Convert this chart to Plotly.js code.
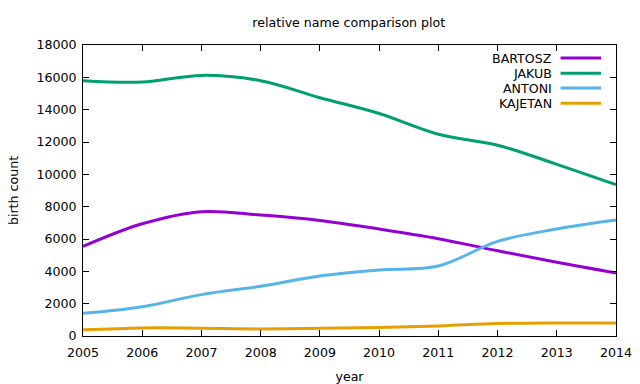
<!DOCTYPE html>
<html>
<head>
<meta charset="utf-8">
<script src="https://cdn.plot.ly/plotly-3.0.1.min.js"></script>
<style>html,body{margin:0;padding:0;background:#fff;}#chart{width:640px;height:384px;}</style>
</head>
<body>
<div id="chart"></div>
<script>
const years = [2005, 2006, 2007, 2008, 2009, 2010, 2011, 2012, 2013, 2014];
const names = ["BARTOSZ", "JAKUB", "ANTONI", "KAJETAN"];
const bartosz = [5540, 6940, 7690, 7480, 7150, 6620, 6020, 5270, 4560, 3900];
const jakub   = [15790, 15710, 16120, 15790, 14740, 13760, 12480, 11800, 10620, 9360];
const antoni  = [1400, 1810, 2560, 3080, 3710, 4080, 4330, 5850, 6620, 7170];
const kajetan = [380, 500, 480, 440, 480, 520, 620, 770, 810, 810];
const colors = ["#9400d3", "#009e73", "#56b4e9", "#e69f00"];
const series = [bartosz, jakub, antoni, kajetan];

const font = {family: "DejaVu Sans", size: 12.6, color: "#000"};

const traces = series.map((ys, i) => ({
  x: years, y: ys, name: names[i], type: "scatter", mode: "lines",
  line: {color: colors[i], width: 3, shape: "spline", smoothing: 1},
  showlegend: false, hoverinfo: "skip"
}));

// custom gnuplot-style legend (text then line sample)
const legendY = [0.955, 0.903, 0.852, 0.80];
const annotations = names.map((n, i) => ({
  xref: "paper", yref: "paper", x: 0.884, y: legendY[i],
  xanchor: "right", yanchor: "middle", text: n, showarrow: false, font: font
}));
const shapes = names.map((n, i) => ({
  type: "line", xref: "paper", yref: "paper",
  x0: 0.896, x1: 0.972, y0: legendY[i], y1: legendY[i],
  line: {color: colors[i], width: 3}
}));

const layout = {
  width: 640, height: 384,
  margin: {l: 83, r: 24, t: 45, b: 48},
  paper_bgcolor: "#fff", plot_bgcolor: "#fff",
  font: font,
  title: {text: "relative name comparison plot", font: font, x: 0.545, xanchor: "center", y: 0.94, yanchor: "middle"},
  xaxis: {
    range: [2005, 2014], dtick: 1, tick0: 2005, tickformat: "d",
    showgrid: false, zeroline: false,
    showline: true, linecolor: "#000", linewidth: 1, mirror: "ticks",
    ticks: "inside", ticklen: 6, tickcolor: "#000", tickwidth: 1,
    tickfont: font, ticklabelstandoff: 5,
    title: {text: "year", font: font, standoff: 14}
  },
  yaxis: {
    range: [0, 18000], dtick: 2000, tick0: 0, tickformat: "d",
    showgrid: false, zeroline: false,
    showline: true, linecolor: "#000", linewidth: 1, mirror: "ticks",
    ticks: "inside", ticklen: 6, tickcolor: "#000", tickwidth: 1,
    tickfont: font, ticklabelstandoff: 3,
    title: {text: "birth count", font: font, standoff: 14}
  },
  annotations: annotations,
  shapes: shapes,
  showlegend: false
};

Plotly.newPlot("chart", traces, layout, {staticPlot: true, displayModeBar: false});
</script>
</body>
</html>
